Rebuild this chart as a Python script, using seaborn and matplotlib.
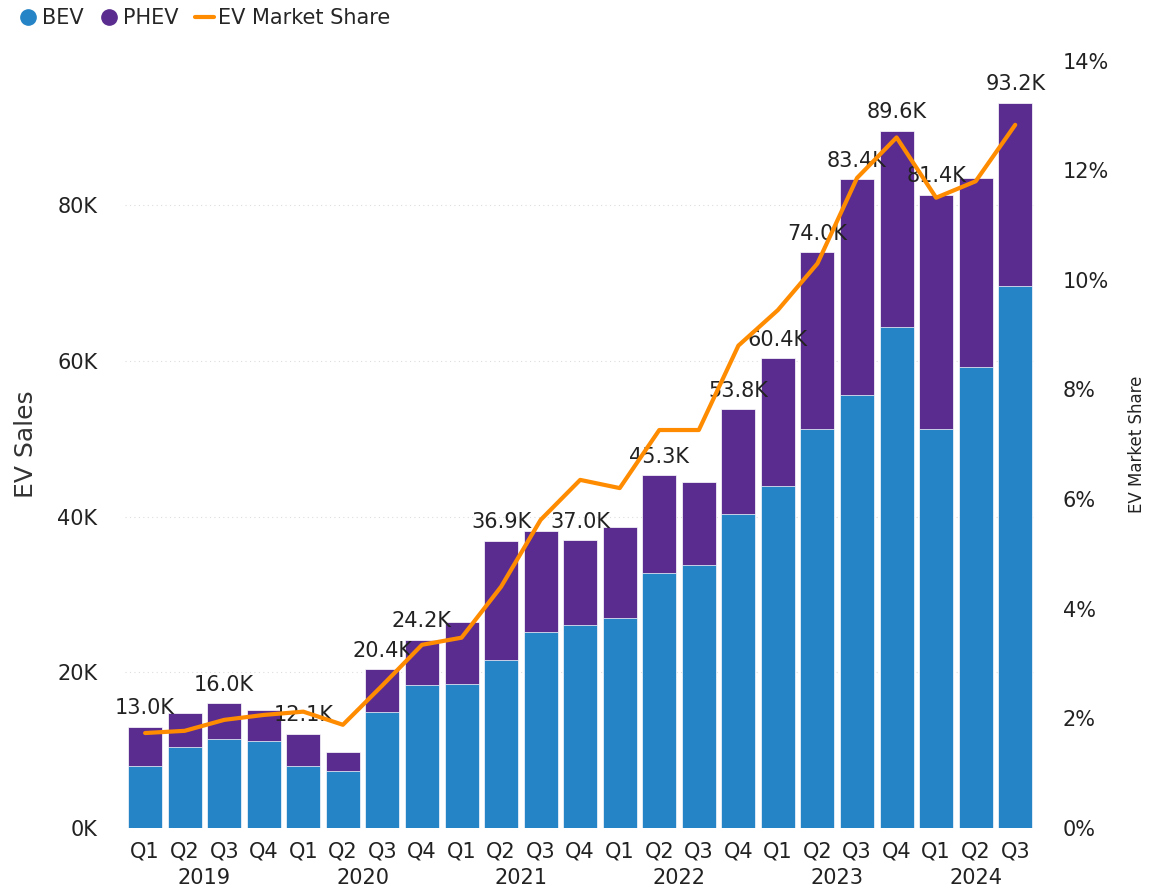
import matplotlib.pyplot as plt
import matplotlib.ticker as mticker
from matplotlib.lines import Line2D
import pandas as pd
import seaborn as sns

# Quarterly EV sales (thousands) and market share (%)
quarters = ['Q1', 'Q2', 'Q3', 'Q4'] * 5 + ['Q1', 'Q2', 'Q3']
years = ['2019', '2020', '2021', '2022', '2023', '2024']
total = [13.0, 14.7, 16.0, 15.2, 12.1, 9.8, 20.4, 24.2, 26.5, 36.9, 38.2, 37.0,
         38.7, 45.3, 44.5, 53.8, 60.4, 74.0, 83.4, 89.6, 81.4, 83.5, 93.2]
bev = [8.0, 10.4, 11.4, 11.1, 8.0, 7.3, 14.9, 18.3, 18.5, 21.6, 25.2, 26.1,
       27.0, 32.8, 33.8, 40.3, 43.9, 51.3, 55.6, 64.4, 51.3, 59.2, 69.7]
share = [1.73, 1.77, 1.97, 2.06, 2.12, 1.88, 2.6, 3.34, 3.47, 4.4, 5.62, 6.35,
         6.2, 7.26, 7.26, 8.8, 9.45, 10.3, 11.86, 12.6, 11.5, 11.8, 12.83]
# bars whose total label is shown
labeled = [0, 2, 4, 6, 7, 9, 11, 13, 15, 16, 17, 18, 19, 20, 22]

df = pd.DataFrame({'idx': range(len(total)), 'total': total, 'bev': bev, 'share': share})

sns.set_style('white')
plt.rcParams['font.family'] = ['DejaVu Sans']

bev_color = '#2584C6'
phev_color = '#5B2C8F'
line_color = '#FF8C00'

fig = plt.figure(figsize=(11.5, 8.93), dpi=100)
ax = fig.add_axes([0.109, 0.073, 0.791, 0.859])

sns.barplot(data=df, x='idx', y='total', color=phev_color, width=0.86,
            saturation=1, edgecolor='white', linewidth=0.5, ax=ax)
sns.barplot(data=df, x='idx', y='bev', color=bev_color, width=0.86,
            saturation=1, edgecolor='white', linewidth=0.5, ax=ax)

ax.set_xlim(-0.5, len(total) - 0.5)
ax.set_ylim(0, 98.6)
ax.set_yticks([0, 20, 40, 60, 80])
ax.yaxis.set_major_formatter(mticker.FuncFormatter(lambda v, p: f'{v:.0f}K'))
ax.yaxis.grid(True, linestyle=(0, (1, 3)), color='#DDDDDD', linewidth=0.8)
ax.set_axisbelow(True)
ax.set_xticks(range(len(total)))
ax.set_xticklabels(quarters)
ax.tick_params(axis='both', length=0, labelsize=15, colors='#222222')
ax.tick_params(axis='y', pad=20)
ax.tick_params(axis='x', pad=10)
ax.set_xlabel('')
ax.set_ylabel('EV Sales', fontsize=18, color='#333333', labelpad=14)
for s in ax.spines.values():
    s.set_visible(False)

# year labels under quarter ticks
starts = [0, 4, 8, 12, 16, 20]
for yr, st in zip(years, starts):
    end = min(st + 3, len(total) - 1)
    ax.text((st + end) / 2, -0.052, yr, transform=ax.get_xaxis_transform(),
            ha='center', va='top', fontsize=15, color='#222222')

for i in labeled:
    ax.annotate(f'{total[i]:.1f}K', (i, total[i]), xytext=(0, 6),
                textcoords='offset points', ha='center', va='bottom',
                fontsize=15, color='#222222')

ax2 = ax.twinx()
sns.lineplot(data=df, x='idx', y='share', color=line_color, linewidth=3, ax=ax2)
ax2.set_ylim(0, 14)
ax2.set_yticks(range(0, 15, 2))
ax2.yaxis.set_major_formatter(mticker.FuncFormatter(lambda v, p: f'{v:.0f}%'))
ax2.tick_params(axis='y', length=0, labelsize=15, colors='#222222', pad=20)
ax2.set_ylabel('EV Market Share', fontsize=12, color='#222222', labelpad=14)
ax2.set_xlabel('')
for s in ax2.spines.values():
    s.set_visible(False)

handles = [
    Line2D([], [], marker='o', linestyle='', color=bev_color, markersize=11),
    Line2D([], [], marker='o', linestyle='', color=phev_color, markersize=11),
    Line2D([], [], color=line_color, linewidth=3),
]
fig.legend(handles, ['BEV', 'PHEV', 'EV Market Share'], loc='upper left',
           bbox_to_anchor=(0.0, 1.012), ncol=3, frameon=False, fontsize=15,
           handlelength=0.9, handletextpad=0.2, columnspacing=0.8)

fig.savefig('out.png', dpi=100)
